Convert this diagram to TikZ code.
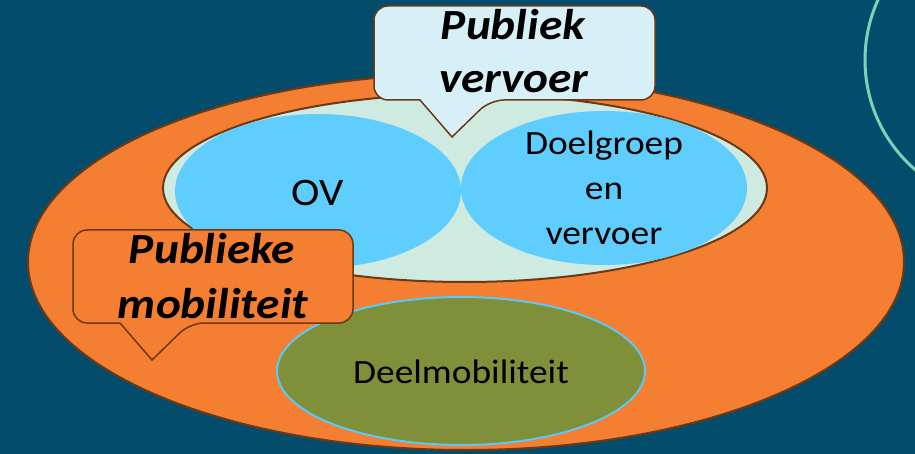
\documentclass[tikz,border=0pt]{standalone}
\usepackage{fontspec}
\setmainfont[FakeStretch=1.1]{Carlito}
\usetikzlibrary{shapes.geometric}
\definecolor{bgc}{HTML}{044C6B}
\definecolor{orangec}{HTML}{F47E32}
\definecolor{brownc}{HTML}{6B3A14}
\definecolor{lightgc}{HTML}{CFEAE0}
\definecolor{bluec}{HTML}{5FCDFE}
\definecolor{olivec}{HTML}{7F8F3A}
\definecolor{calltopc}{HTML}{D7EFF7}
\definecolor{lbluec}{HTML}{5BC8F5}
\definecolor{arcc}{HTML}{7ED0B7}
\tikzset{
  ell/.style={ellipse, inner sep=0pt, outer sep=0pt},
  calloutbox/.style={draw=brownc, line width=1.5pt, line join=miter},
  bigtxt/.style={inner sep=0pt, anchor=base, font=\fontsize{43}{50}\selectfont\bfseries\itshape},
  midtxt/.style={inner sep=0pt, anchor=base, font=\fontsize{34}{40}\selectfont},
}
\begin{document}
\begin{tikzpicture}[x=1pt,y=-1pt]
\fill[bgc] (0,0) rectangle (915,454);
\useasboundingbox (0,0) rectangle (915,454);
\draw[arcc, line width=3pt] (1010,60) circle[radius=145pt];
% ellipses
\node[ell, fill=orangec, draw=brownc, line width=2pt, minimum width=876pt, minimum height=376pt] (pm) at (466,262) {};
\node[ell, fill=lightgc, draw=brownc, line width=2pt, minimum width=604pt, minimum height=188pt] (pv) at (465,188) {};
\node[ell, fill=bluec, minimum width=286pt, minimum height=154pt] (ov) at (318,191) {};
\node[ell, fill=bluec, minimum width=286pt, minimum height=154pt] (dg) at (604,188) {};
\node[ell, fill=olivec, draw=lbluec, line width=2pt, minimum width=368pt, minimum height=148pt] (dm) at (461,371) {};
% texts in ellipses
\node[midtxt, font=\fontsize{39}{44}\selectfont] (ovt) at (318,206) {OV};
\node[midtxt] (dgt1) at (604,155) {Doelgroep};
\node[midtxt] (dgt2) at (604,200) {en};
\node[midtxt] (dgt3) at (604,245) {vervoer};
\node[midtxt] (dmt) at (461,383) {Deelmobiliteit};
% top callout
\draw[calloutbox, fill=calltopc] (420,100) [rounded corners=14pt] -- (374,100) -- (374,6) -- (655,6) -- (655,100) -- (490,100) [sharp corners] -- (452,137) -- cycle;
\node[bigtxt] (pvt1) at (513,40) {Publiek};
\node[bigtxt] (pvt2) at (514,93) {vervoer};
% bottom-left callout
\draw[calloutbox, fill=orangec] (120,323) [rounded corners=14pt] -- (73,323) -- (73,230) -- (353,230) -- (353,323) -- (190,323) [sharp corners] -- (152,360) -- cycle;
\node[bigtxt] (pmt1) at (212,264) {Publieke};
\node[bigtxt] (pmt2) at (213,318) {mobiliteit};
\end{tikzpicture}
\end{document}
